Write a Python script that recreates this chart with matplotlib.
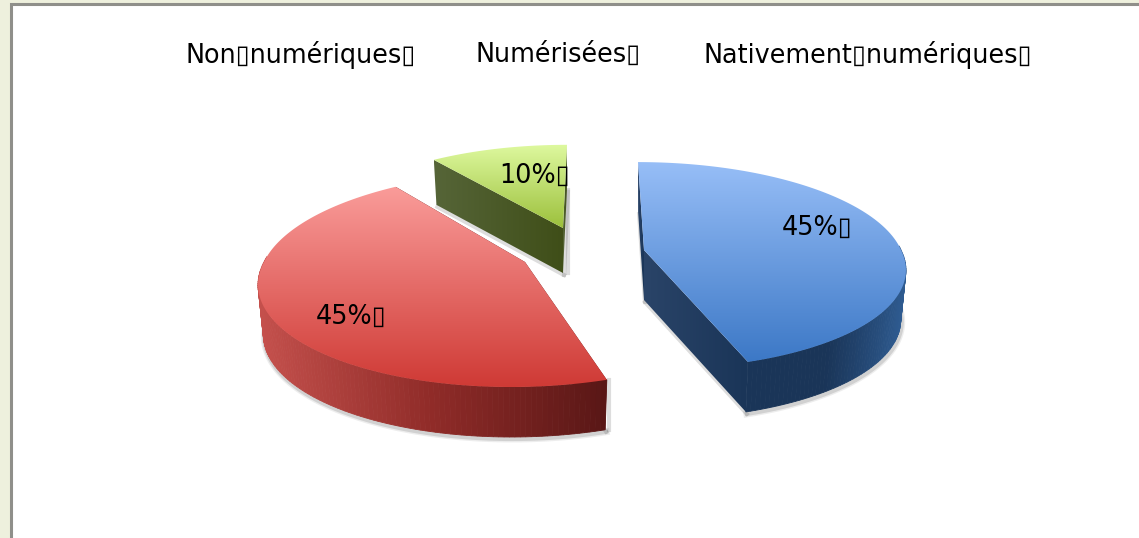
import numpy as np
import matplotlib
matplotlib.use("Agg")
import matplotlib.pyplot as plt
from matplotlib.colors import LinearSegmentedColormap as LSC
from matplotlib.patches import Polygon, Rectangle

categories = ["Nativement numériques", "Non numériques", "Numérisées"]
shares = [45, 45, 10]
legend_order = [1, 2, 0]
BOX = "\u25af"

W, H = 1139, 538
legend_x = [186, 476, 703]
legend_y = 55
label_xy = [(817, 228), (351, 317), (535, 176)]

styles = [
    dict(c=(644, 250), rx=257, ry=101, k=.149, back=-6, front=12, depth=50,
         top=["#97bef7", "#3c78c6"], rim=["#1a3558", "#1a3558", "#2f5c92"], wall=["#2a4468", "#1a3558"]),
    dict(c=(525, 262), rx=261, ry=105, k=.16, back=8, front=-14, depth=50,
         top=["#fa9c9a", "#cf3a35"], rim=["#c4504c", "#8f2b28", "#591716"], wall=["#591716", "#591716"]),
    dict(c=(563, 228), rx=238, ry=89, k=.07, back=4, front=0, depth=45,
         top=["#def99f", "#9cc03c"], rim=["#3f4e18", "#3f4e18", "#3f4e18"], wall=["#566538", "#3f4e18"]),
]
bottom_scale = 0.98

fig = plt.figure(figsize=(W / 100, H / 100), dpi=100, facecolor="#eef0dd")
ax = fig.add_axes([0, 0, 1, 1])
ax.set_axis_off()
ax.add_patch(Rectangle((10, 3), W, H, fc="white", ec="none", zorder=0))
ax.plot([11, 11, W], [H, 4, 4], color="#8f8f8a", lw=2.2, zorder=0.5, solid_joinstyle="miter")


def project(theta, s):
    u, v = np.sin(theta), np.cos(theta)
    w = 1 + s["k"] * v
    x = s["c"][0] + s["rx"] * u / w + s["back"] * np.maximum(v, 0) + s["front"] * np.maximum(-v, 0)
    y = s["c"][1] - s["ry"] * v / w
    return x, y


def gradient_fill(xy, colors, z, vertical=True):
    xy = np.asarray(xy)
    x0, x1 = xy[:, 0].min(), xy[:, 0].max()
    y0, y1 = xy[:, 1].min(), xy[:, 1].max()
    grad = np.linspace(0, 1, 256)
    grad = grad[:, None] if vertical else grad[None, :]
    im = ax.imshow(grad, cmap=LSC.from_list("g", colors), extent=(x0, x1, y1, y0),
                   origin="upper", aspect="auto", zorder=z, interpolation="bilinear")
    clip = Polygon(xy, closed=True, transform=ax.transData, fc="none", ec="none")
    ax.add_patch(clip)
    im.set_clip_path(clip)


fractions = np.cumsum([0] + shares) / sum(shares) * 2 * np.pi
for i, s in enumerate(styles):
    a0, a1 = fractions[i], fractions[i + 1]
    t = np.linspace(a0, a1, 160)
    x, y = project(t, s)
    cx, cy = s["c"]
    d = s["depth"]
    xb = cx + (x - cx) * bottom_scale
    yb = y + d
    z = 2 + i
    # soft shadow
    front = np.cos(t) < .3
    for lw, al in [(5, .10), (3, .18)]:
        ax.plot(xb[front] + 1, yb[front] + 2, color="#555555", lw=lw, alpha=al, zorder=z - .5)
    if i == 1:
        ax.plot([x[0] + 2, x[0] + 2], [y[0], yb[0]], color="#555555", lw=3, alpha=.2, zorder=z - .5)
    ax.plot([cx + 1, xb[0] + 1], [cy + d + 2, yb[0] + 2], color="#555555", lw=3, alpha=.2, zorder=z - .5)
    ax.plot([cx + 1, xb[-1] + 1], [cy + d + 2, yb[-1] + 2], color="#555555", lw=3, alpha=.2, zorder=z - .5)
    if i == 2:
        ax.plot([cx + 5, cx + 5], [y[-1] + d, cy + d], color="#555555", lw=3, alpha=.2, zorder=z - .5)
    # radial walls
    for j in (0, -1):
        quad = [(cx, cy), (x[j], y[j]), (xb[j], yb[j]), (cx, cy + d)]
        gradient_fill(quad, s["wall"], z, vertical=False)
    # outer rim
    rim_map = LSC.from_list("r", s["rim"])
    span = max(x.max() - x.min(), 1)
    for m in range(len(t) - 1):
        if np.cos(t[m]) < .05:
            pos = (0.5 * (x[m] + x[m + 1]) - x.min()) / span
            if i == 0:
                pos = pos ** 2
            ax.fill([x[m], x[m + 1], xb[m + 1], xb[m]],
                    [y[m], y[m + 1], yb[m + 1], yb[m]],
                    color=rim_map(pos), lw=.6, zorder=z + .1)
    # top face
    top = np.vstack([[cx, cy], np.column_stack([x, y])])
    gradient_fill(top, s["top"], z + .2)

for i, (lx, ly) in enumerate(label_xy):
    ax.text(lx, ly, f"{shares[i]}%{BOX}", fontsize=18.4, ha="center", va="center",
            family="DejaVu Sans", color="black", zorder=10)

for pos, idx in zip(legend_x, legend_order):
    ax.text(pos, legend_y, categories[idx].replace(" ", BOX) + BOX, fontsize=18.4, ha="left", va="center",
            family="DejaVu Sans", color="black", zorder=10)

ax.set_xlim(0, W)
ax.set_ylim(H, 0)
fig.savefig("out.png", dpi=100, facecolor=fig.get_facecolor())
